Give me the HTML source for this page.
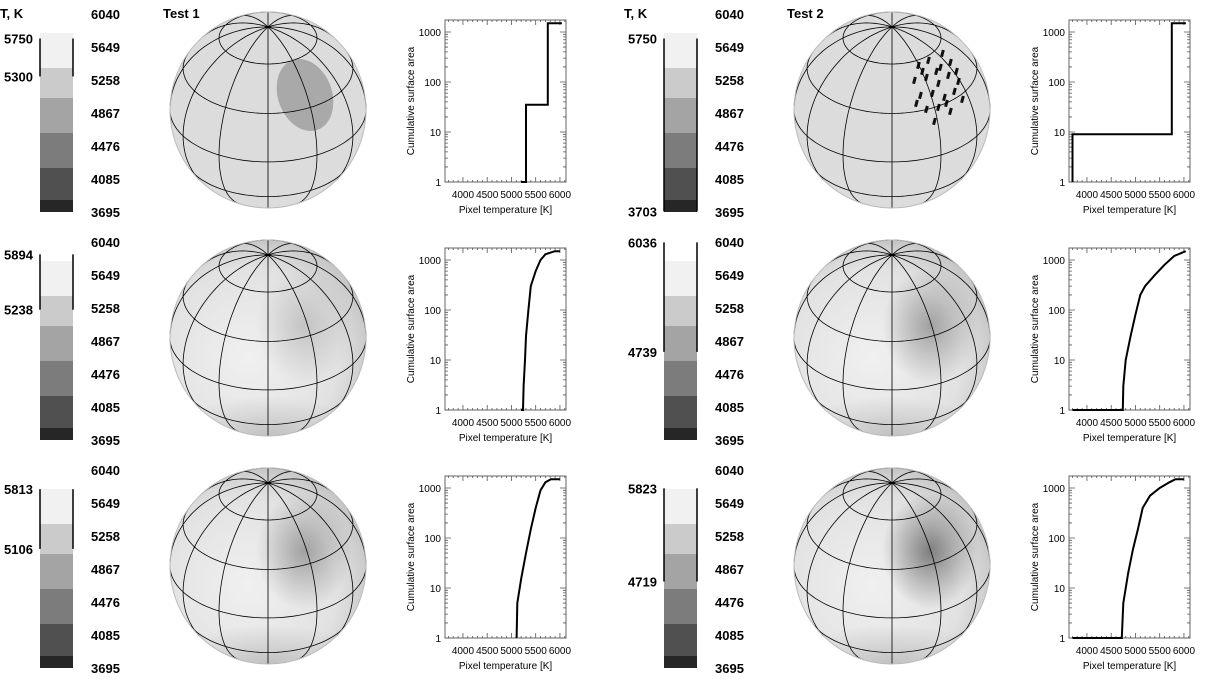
<!DOCTYPE html>
<html><head><meta charset="utf-8"><style>
body{margin:0;background:#fff;}
svg{display:block;font-family:"Liberation Sans",sans-serif;}
</style></head><body>
<svg id="fig" width="1209" height="679" viewBox="0 0 1209 679" xmlns="http://www.w3.org/2000/svg">
<defs>
<radialGradient id="base" cx="0.4" cy="0.6" r="0.65">
<stop offset="0" stop-color="#f0f0f0"/><stop offset="0.7" stop-color="#e2e2e2"/><stop offset="1" stop-color="#c4c4c4"/></radialGradient>
<radialGradient id="spotA"><stop offset="0" stop-color="#000" stop-opacity="0.15"/><stop offset="1" stop-color="#000" stop-opacity="0"/></radialGradient>
<radialGradient id="spotB"><stop offset="0" stop-color="#000" stop-opacity="0.3"/><stop offset="1" stop-color="#000" stop-opacity="0"/></radialGradient>
<radialGradient id="spotC"><stop offset="0" stop-color="#000" stop-opacity="0.45"/><stop offset="1" stop-color="#000" stop-opacity="0"/></radialGradient>
<radialGradient id="capG" cx="0.5" cy="0"><stop offset="0" stop-color="#000" stop-opacity="0.22"/><stop offset="1" stop-color="#000" stop-opacity="0"/></radialGradient>
</defs>
<text x="0" y="18" font-size="13" font-weight="bold">T, K</text>
<text x="624" y="18" font-size="13" font-weight="bold">T, K</text>
<text x="163" y="18" font-size="13" font-weight="bold">Test 1</text>
<text x="787" y="18" font-size="13" font-weight="bold">Test 2</text>
</svg>
<script>
const cbTicks=[6040,5649,5258,4867,4476,4085,3695];
const rangeLabels=[[[5750,5300],[5750,3703]],[[5894,5238],[6036,4739]],[[5813,5106],[5823,4719]]];
const xTicks=[4000,4500,5000,5500,6000];
const yTicks=[1,10,100,1000];
// series per panel: temperatures and cumulative areas
const t11=[5200,5300,5300,5750,5750,6040], a11=[1,1,35,35,1500,1500];
const t12=[3703,3703,5750,5750,6040], a12=[1,9,9,1500,1500];
const t21=[5200,5238,5250,5280,5300,5350,5400,5500,5600,5700,5894,6000], a21=[1,1,3,10,30,100,300,600,1000,1300,1500,1500];
const t22=[3703,4739,4750,4800,4900,5000,5100,5200,5400,5600,5800,6036], a22=[1,1,3,10,30,80,200,300,500,800,1200,1500];
const t31=[5106,5106,5120,5200,5300,5400,5500,5600,5700,5813,6000], a31=[1,1,5,15,50,150,400,900,1300,1500,1500];
const t32=[3703,4719,4750,4850,4950,5050,5150,5300,5500,5700,5823,6000], a32=[1,1,5,20,60,150,400,700,1000,1300,1500,1500];
const series=[[[t11,a11],[t12,a12]],[[t21,a21],[t22,a22]],[[t31,a31],[t32,a32]]];

const NS="http://www.w3.org/2000/svg", svg=document.getElementById('fig');
function el(tag,at,parent){const e=document.createElementNS(NS,tag);for(const k in at)e.setAttribute(k,at[k]);(parent||svg).appendChild(e);return e;}
function txt(x,y,s,at,p){const e=el('text',Object.assign({x:x,y:y,'font-size':12},at||{}),p);e.textContent=s;return e;}
const bands=[[14,33,'#ffffff'],[33,68,'#f1f1f1'],[68,98,'#cbcbcb'],[98,133,'#a4a4a4'],[133,168,'#7c7c7c'],[168,200,'#505050'],[200,212,'#262626']];
const cbY=t=>14+(6040-t)/(6040-3695)*198;
const tb=32*Math.PI/180;
function proj(lat,lon){lat*=Math.PI/180;lon*=Math.PI/180;
 return [Math.cos(lat)*Math.sin(lon), Math.sin(lat)*Math.cos(tb)-Math.cos(lat)*Math.cos(lon)*Math.sin(tb), Math.sin(lat)*Math.sin(tb)+Math.cos(lat)*Math.cos(lon)*Math.cos(tb)];}
function gridPath(cx,cy,R,pts){let d='',pen=false;for(const p of pts){const q=proj(p[0],p[1]);if(q[2]>=0){d+=(pen?'L':'M')+(cx+R*q[0]).toFixed(1)+' '+(cy-R*q[1]).toFixed(1);pen=true;}else pen=false;}return d;}
const spotFills=[[null,null],['url(#spotA)','url(#spotB)'],['url(#spotB)','url(#spotC)']];

for(let r=0;r<3;r++)for(let c=0;c<2;c++){
 const ox=c*624, oy=r*228;
 const g=el('g',{transform:`translate(${ox},${oy})`});
 
 
 const cb=el('g',{},g);
 
 
 bands.forEach(b=>el('rect',{x:40,y:b[0],width:33,height:b[1]-b[0],fill:b[2]},cb));
 cbTicks.forEach((t,i)=>{const e=txt(91,cbY(t)+5,String(t),{'font-size':13,'font-weight':'bold'},cb);
  
  });
 const rl=rangeLabels[r][c];
 const y1=cbY(rl[0]),y2=cbY(rl[1]);
 el('line',{x1:40,x2:40,y1:y1,y2:y2,stroke:'#000','stroke-width':1.5},cb);
 el('line',{x1:73,x2:73,y1:y1,y2:y2,stroke:'#000','stroke-width':1.5},cb);
 rl.forEach(v=>{const e=txt(4,cbY(v)+5,String(v),{'font-size':13,'font-weight':'bold'},cb);
  
  });
 const cx=268,cy=110,R=98;
 const sp=el('g',{},g);
 
 
 el('clipPath',{id:`cp${r}${c}`},sp);
 el('circle',{cx:cx,cy:cy,r:R},document.getElementById(`cp${r}${c}`));
 if(r===0){
  el('circle',{cx:cx,cy:cy,r:R,fill:'#dcdcdc'},sp);
  if(c===0){el('ellipse',{cx:305,cy:95,rx:27,ry:37,transform:'rotate(-20 305 95)',fill:'#a9a9a9'},sp);}
  else{const dash=[[-18,-30],[-8,-35],[4,-28],[14,-33],[-22,-15],[-10,-18],[2,-12],[12,-20],[22,-14],[-16,0],[-4,-2],[8,2],[18,-4],[26,4],[-10,14],[2,12],[14,16],[-2,26],[6,-42],[-14,-24],[20,-24],[-20,8],[0,-24],[10,8]];
   dash.forEach(d=>el('rect',{x:311+d[0],y:95+d[1]-3.5,width:3,height:7,transform:`rotate(15 ${311+d[0]} ${95+d[1]})`,fill:'#111'},sp));}
 }else{
  el('circle',{cx:cx,cy:cy,r:R,fill:'url(#base)'},sp);
  const sg=el('g',{'clip-path':`url(#cp${r}${c})`},sp);
  el('ellipse',{cx:cx,cy:cy-R+10,rx:R*0.8,ry:60,fill:'url(#capG)'},sg);
  el('ellipse',{cx:c?306:304,cy:r===1?98:95,rx:48,ry:58,fill:spotFills[r][c]},sg);
  el('ellipse',{cx:cx,cy:cy+R,rx:R,ry:40,fill:'url(#spotA)'},sg);
 }
 let d='';
 for(const lat of [60,30,0,-30,-60]){const pts=[];for(let l=-180;l<=180;l+=3)pts.push([lat,l]);d+=gridPath(cx,cy,R,pts);}
 for(let lon=0;lon<360;lon+=30){const pts=[];for(let la=-90;la<=90;la+=3)pts.push([la,lon]);d+=gridPath(cx,cy,R,pts);}
 el('path',{d:d,fill:'none',stroke:'#000','stroke-width':0.8},sp);
 el('circle',{cx:cx,cy:cy,r:R,fill:'none',stroke:'#bbb','stroke-width':1},sp);
 const hx0=445,hx1=566,hy0=20,hy1=182;
 const X=t=>hx0+(t-3630)/(6125-3630)*(hx1-hx0);
 const Y=a=>182-Math.log10(a)*50;
 const h=el('g',{},g);
 
 
 el('rect',{x:hx0,y:hy0,width:hx1-hx0,height:hy1-hy0,fill:'none',stroke:'#666','stroke-width':1},h);
 let tk='';
 xTicks.forEach(t=>{tk+=`M${X(t)} ${hy1}v-5M${X(t)} ${hy0}v5`;
  const e=txt(X(t),hy1+16,String(t),{'font-size':10,'text-anchor':'middle'},h);
  
  });
 for(let t=3700;t<=6100;t+=100)tk+=`M${X(t)} ${hy1}v-2M${X(t)} ${hy0}v2`;
 yTicks.forEach(a=>{tk+=`M${hx0} ${Y(a)}h6M${hx1} ${Y(a)}h-6`;
  const e=txt(hx0-4,Y(a)+4,String(a),{'font-size':10,'text-anchor':'end'},h);
  
  
  for(let m=2;m<10&&a*m<1800;m++)tk+=`M${hx0} ${Y(a*m)}h3M${hx1} ${Y(a*m)}h-3`;});
 el('path',{d:tk,stroke:'#555','stroke-width':0.8,fill:'none'},h);
 const xt=txt((hx0+hx1)/2,hy1+31,'Pixel temperature [K]',{'font-size':10,'text-anchor':'middle'},h);
 
 
 const yt=txt(0,0,'Cumulative surface area',{'font-size':10,'text-anchor':'middle',transform:`translate(${hx0-31},${(hy0+hy1)/2}) rotate(-90)`},h);
 
 
 const [ts,as]=series[r][c];
 let pd='';ts.forEach((t,i)=>pd+=(i?'L':'M')+X(t).toFixed(1)+' '+Y(as[i]).toFixed(1));
 const ln=el('path',{d:pd,fill:'none',stroke:'#000','stroke-width':2},h);
 
 
}
</script>
</body></html>
